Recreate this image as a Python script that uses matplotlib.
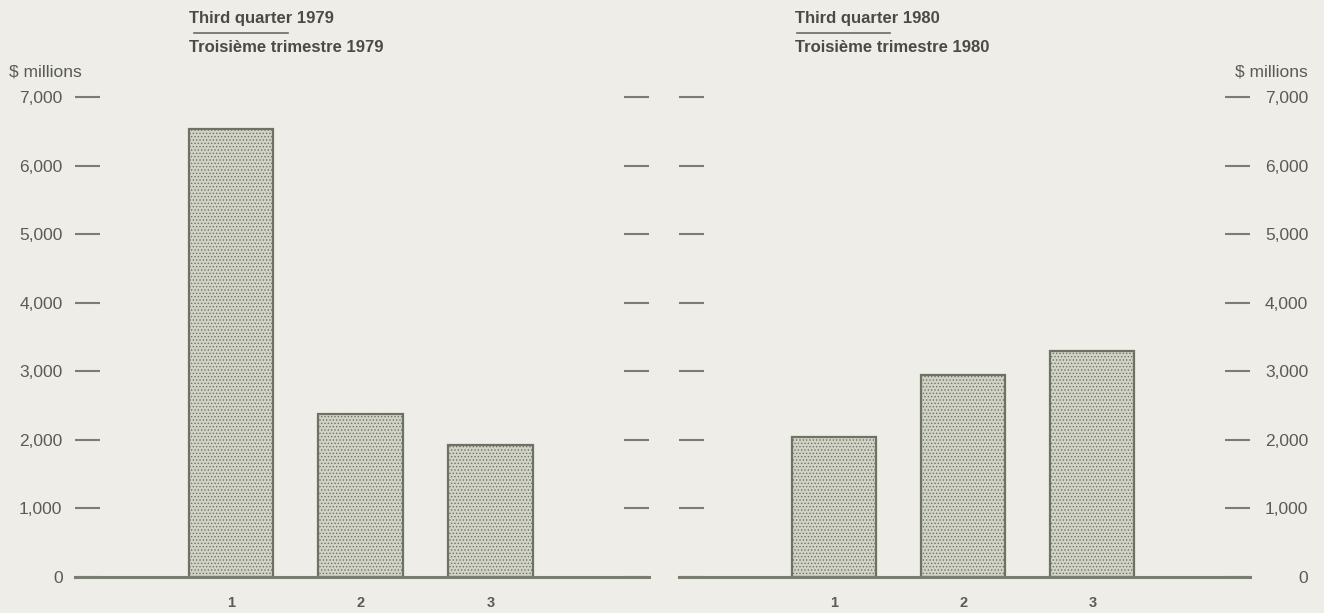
import matplotlib
matplotlib.use("Agg")
import matplotlib.pyplot as plt
from matplotlib.lines import Line2D

plt.rcParams['font.family'] = ['Liberation Sans', 'DejaVu Sans']
plt.rcParams['hatch.color'] = '#b9bbae'
plt.rcParams['hatch.linewidth'] = 0.6

categories = ['1', '2', '3']
values_1979 = [6530, 2380, 1920]
values_1980 = [2040, 2950, 3290]
yticks = [0, 1000, 2000, 3000, 4000, 5000, 6000, 7000]
ytick_labels = ['0', '1,000', '2,000', '3,000', '4,000', '5,000', '6,000', '7,000']

bg = '#eeede8'
ink = '#5a5c54'
line_col = '#7a7e70'

fig = plt.figure(figsize=(13.24, 6.13), dpi=100, facecolor=bg)

W, H = 1324.0, 613.0
ax1 = fig.add_axes([75 / W, 36 / H, 574 / W, 480 / H])
ax2 = fig.add_axes([679 / W, 36 / H, 571 / W, 480 / H])


def setup(ax, values, labels_side):
    ax.set_facecolor('none')
    x = range(len(categories))
    ax.bar(x, values, width=0.65, color='#d2d3c8', edgecolor='#6d7262',
           linewidth=1.6, hatch='.....', zorder=2)
    ax.set_xlim(-1.2, 3.22)
    ax.set_ylim(0, 7000)
    for s in ['top', 'left', 'right']:
        ax.spines[s].set_visible(False)
    ax.spines['bottom'].set_color(line_col)
    ax.spines['bottom'].set_linewidth(2.2)
    ax.spines['bottom'].set_zorder(3)
    ax.set_xticks(list(x))
    ax.set_xticklabels(categories, fontsize=10.5, fontweight='bold', color=ink)
    ax.tick_params(axis='x', length=0, pad=14)
    ax.set_yticks(yticks)
    ax.tick_params(axis='y', direction='in', length=18, width=1.5,
                   color=line_col, left=True, right=True,
                   labelleft=False, labelright=False,
                   labelsize=12.5, labelcolor=ink)
    if labels_side == 'left':
        ax.tick_params(axis='y', labelleft=True, pad=9)
        ax.set_yticklabels(ytick_labels)
    else:
        ax.yaxis.set_tick_params(labelright=True, pad=42)
        ax.set_yticklabels(ytick_labels)
        for t in ax.get_yticklabels():
            t.set_horizontalalignment('right')


setup(ax1, values_1979, 'left')
setup(ax2, values_1980, 'right')

# units labels
fig.text(9 / W, 1 - 72 / H, '$ millions', fontsize=12.5, color=ink,
         ha='left', va='center')
fig.text(1308 / W, 1 - 72 / H, '$ millions', fontsize=12.5, color=ink,
         ha='right', va='center')

# panel titles
for x0, x_ul, year in [(189, (194, 288), '1979'), (795, (797, 890), '1980')]:
    fig.text(x0 / W, 1 - 18 / H, 'Third quarter ' + year, fontsize=12,
             fontweight='bold', color='#4a4b44', ha='left', va='center')
    fig.add_artist(Line2D([x_ul[0] / W, x_ul[1] / W], [1 - 33 / H, 1 - 33 / H],
                          color='#6d6a60', linewidth=1.2))
    fig.text(x0 / W, 1 - 47 / H, 'Troisième trimestre ' + year, fontsize=12,
             fontweight='bold', color='#4a4b44', ha='left', va='center')

plt.savefig('out.png', dpi=100, facecolor=bg)
